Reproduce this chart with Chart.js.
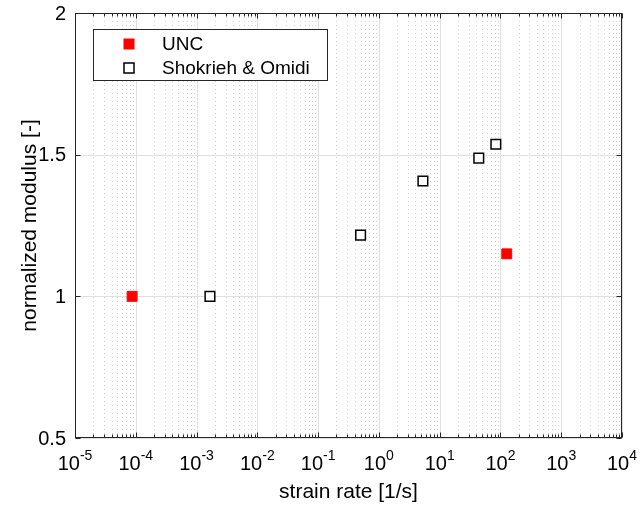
<!DOCTYPE html>
<html>
<head>
<meta charset="utf-8">
<script src="https://cdn.jsdelivr.net/npm/chart.js@4/dist/chart.umd.min.js"></script>
<style>
  html, body { margin: 0; padding: 0; background: #fff; }
  #wrap { width: 642px; height: 508px; }
</style>
</head>
<body>
<div id="wrap"><canvas id="chart" width="642" height="508"></canvas></div>
<script>
// Data
const uncRate = [8.7e-5, 127];
const uncModulus = [1.0, 1.15];
const soRate = [1.66e-3, 0.5, 5.3, 44, 84];
const soModulus = [1.0, 1.216, 1.407, 1.488, 1.537];

// Axes
const xTickExponents = ['-5', '-4', '-3', '-2', '-1', '0', '1', '2', '3', '4'];
const yTickValues = [0.5, 1, 1.5, 2];
const yTickLabels = ['0.5', '1', '1.5', '2'];
const seriesLabels = ['UNC', 'Shokrieh & Omidi'];

const FONT = '"Liberation Sans", Arial, Helvetica, sans-serif';
const AXIS_COLOR = '#262626';

function crisp(v) {
  return Math.round(v) + 0.5;
}

// Grid lines (major solid, minor dotted)
const gridPlugin = {
  id: 'matlabGrid',
  beforeDatasetsDraw(chart) {
    const { ctx, chartArea: a, scales: { x, y } } = chart;
    ctx.save();
    ctx.lineWidth = 1;

    // minor x grid
    ctx.strokeStyle = '#d4d4d4';
    ctx.setLineDash([1, 3]);
    for (let i = 0; i < xTickExponents.length - 1; i++) {
      const base = Math.pow(10, Number(xTickExponents[i]));
      for (let m = 2; m <= 9; m++) {
        const px = crisp(x.getPixelForValue(m * base));
        ctx.beginPath();
        ctx.moveTo(px, a.top);
        ctx.lineTo(px, a.bottom);
        ctx.stroke();
      }
    }

    // major grid
    ctx.setLineDash([]);
    ctx.strokeStyle = '#e0e0e0';
    xTickExponents.forEach(e => {
      const px = crisp(x.getPixelForValue(Math.pow(10, Number(e))));
      ctx.beginPath();
      ctx.moveTo(px, a.top);
      ctx.lineTo(px, a.bottom);
      ctx.stroke();
    });
    yTickValues.forEach(v => {
      const py = crisp(y.getPixelForValue(v));
      ctx.beginPath();
      ctx.moveTo(a.left, py);
      ctx.lineTo(a.right, py);
      ctx.stroke();
    });
    ctx.restore();
  }
};

// Box, ticks, labels, legend
const framePlugin = {
  id: 'matlabFrame',
  afterDatasetsDraw(chart) {
    const { ctx, chartArea: a, scales: { x, y } } = chart;
    const L = crisp(a.left), R = crisp(a.right) - 1, T = crisp(a.top), B = crisp(a.bottom) - 1;
    ctx.save();
    ctx.strokeStyle = AXIS_COLOR;
    ctx.lineWidth = 1;
    ctx.strokeRect(L, T, R - L, B - T);

    // x ticks top and bottom
    ctx.beginPath();
    for (let i = 0; i < xTickExponents.length; i++) {
      const base = Math.pow(10, Number(xTickExponents[i]));
      const px = crisp(x.getPixelForValue(base));
      ctx.moveTo(px, B); ctx.lineTo(px, B - 5);
      ctx.moveTo(px, T); ctx.lineTo(px, T + 5);
      if (i < xTickExponents.length - 1) {
        for (let m = 2; m <= 9; m++) {
          const mx = crisp(x.getPixelForValue(m * base));
          ctx.moveTo(mx, B); ctx.lineTo(mx, B - 3);
          ctx.moveTo(mx, T); ctx.lineTo(mx, T + 3);
        }
      }
    }
    // y ticks left and right
    yTickValues.forEach(v => {
      const py = crisp(y.getPixelForValue(v));
      ctx.moveTo(L, py); ctx.lineTo(L + 5, py);
      ctx.moveTo(R, py); ctx.lineTo(R - 5, py);
    });
    ctx.stroke();

    // legend
    const lx = 93, ly = 29, lw = 234, lh = 51;
    ctx.fillStyle = '#ffffff';
    ctx.fillRect(lx, ly, lw, lh);
    ctx.strokeRect(lx + 0.5, ly + 0.5, lw, lh);
    const rows = [44, 68];
    chart.data.datasets.forEach((ds, i) => {
      const cy = rows[i];
      const s = 10;
      ctx.fillStyle = ds.pointBackgroundColor;
      ctx.fillRect(129 - s / 2, cy - s / 2, s, s);
      ctx.lineWidth = ds.pointBorderWidth;
      ctx.strokeStyle = ds.pointBorderColor;
      ctx.strokeRect(129 - s / 2, cy - s / 2, s, s);
      ctx.fillStyle = '#000';
      ctx.font = '19px ' + FONT;
      ctx.textAlign = 'left';
      ctx.textBaseline = 'middle';
      ctx.fillText(ds.label, 162, cy + 1);
    });
    ctx.restore();
  },
  afterDraw(chart) {
    const { ctx, chartArea: a, scales: { x, y } } = chart;
    ctx.save();
    ctx.fillStyle = '#000';

    // y tick labels
    ctx.font = '20px ' + FONT;
    ctx.textAlign = 'right';
    ctx.textBaseline = 'middle';
    yTickValues.forEach((v, i) => {
      ctx.fillText(yTickLabels[i], a.left - 9, y.getPixelForValue(v) + 1);
    });

    // x tick labels 10^n
    ctx.textAlign = 'left';
    ctx.textBaseline = 'alphabetic';
    xTickExponents.forEach(e => {
      const px = x.getPixelForValue(Math.pow(10, Number(e)));
      ctx.font = '20px ' + FONT;
      const wb = ctx.measureText('10').width;
      ctx.font = '14px ' + FONT;
      const we = ctx.measureText(e).width;
      const start = px - (wb + we) / 2;
      ctx.font = '20px ' + FONT;
      ctx.fillText('10', start, 470);
      ctx.font = '14px ' + FONT;
      ctx.fillText(e, start + wb, 460);
    });

    // axis titles
    ctx.font = '21px ' + FONT;
    ctx.textAlign = 'center';
    ctx.fillText('strain rate [1/s]', (a.left + a.right) / 2, 498);
    ctx.translate(30, (a.top + a.bottom) / 2);
    ctx.rotate(-Math.PI / 2);
    ctx.textBaseline = 'middle';
    ctx.fillText('normalized modulus [-]', 0, 0);
    ctx.restore();
  }
};

const toPoints = (xs, ys) => xs.map((v, i) => ({ x: v, y: ys[i] }));

new Chart(document.getElementById('chart'), {
  type: 'scatter',
  data: {
    datasets: [{
      label: seriesLabels[0],
      data: toPoints(uncRate, uncModulus),
      pointStyle: 'rect',
      pointRadius: 7,
      pointHoverRadius: 7,
      pointBackgroundColor: '#ff0000',
      pointBorderColor: '#ff0000',
      pointBorderWidth: 1
    }, {
      label: seriesLabels[1],
      data: toPoints(soRate, soModulus),
      pointStyle: 'rect',
      pointRadius: 6.8,
      pointHoverRadius: 6.8,
      pointBackgroundColor: '#ffffff',
      pointBorderColor: '#000000',
      pointBorderWidth: 1.5
    }]
  },
  options: {
    responsive: false,
    animation: false,
    devicePixelRatio: 1,
    layout: { padding: { left: 75, right: 20, top: 13, bottom: 70 } },
    plugins: {
      legend: { display: false },
      tooltip: { enabled: false }
    },
    scales: {
      x: { type: 'logarithmic', min: 1e-5, max: 1e4, display: false },
      y: { type: 'linear', min: 0.5, max: 2, display: false }
    }
  },
  plugins: [gridPlugin, framePlugin]
});
</script>
</body>
</html>
